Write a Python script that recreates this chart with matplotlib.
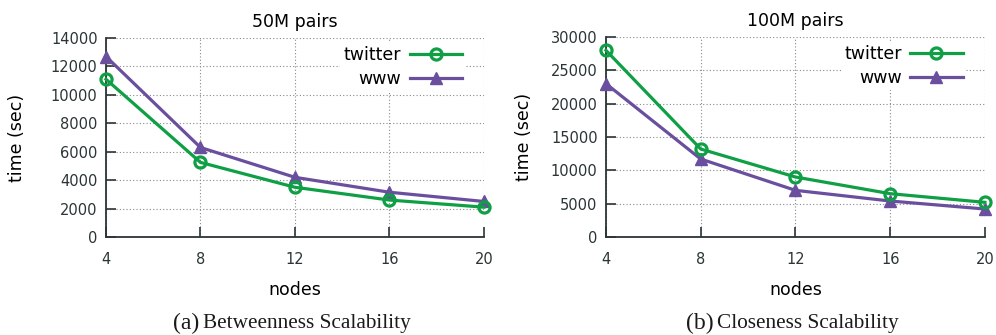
import matplotlib
matplotlib.use("Agg")
import matplotlib.pyplot as plt

nodes = [4, 8, 12, 16, 20]

# betweenness, 50M pairs
btw_twitter = [11100, 5250, 3500, 2600, 2100]
btw_www = [12700, 6300, 4200, 3150, 2500]

# closeness, 100M pairs
cls_twitter = [28000, 13200, 9000, 6500, 5200]
cls_www = [23000, 11700, 7000, 5400, 4200]

titles = ["50M pairs", "100M pairs"]
captions = [("(a)", "Betweenness Scalability"), ("(b)", "Closeness Scalability")]
ymax = [14000, 30000]
ystep = [2000, 5000]

green = "#0f9f45"
purple = "#6a4f9f"
ink = "#2b3535"

fig = plt.figure(figsize=(9.96, 3.35), dpi=100)
axes = [fig.add_axes([0.1064, 0.2925, 0.3795, 0.594]),
        fig.add_axes([0.6084, 0.2925, 0.3805, 0.597])]

series = [(btw_twitter, btw_www), (cls_twitter, cls_www)]
ylabel_pad = [18, 12.5]

for i, ax in enumerate(axes):
    tw, ww = series[i]
    ax.plot(nodes, tw, color=green, lw=2.3, marker="o", ms=8, mfc="none",
            mew=2.3, label="twitter", clip_on=False, zorder=4)
    ax.plot(nodes, ww, color=purple, lw=2.3, marker="^", ms=9,
            label="www", clip_on=False, zorder=3)
    ax.set_xlim(4, 20)
    ax.set_ylim(0, ymax[i])
    ax.set_xticks(nodes)
    ax.set_yticks(range(0, ymax[i] + 1, ystep[i]))
    ax.grid(True, linestyle=(0, (1, 2)), color="#888888", lw=0.8)
    for s in ["top", "right"]:
        ax.spines[s].set_visible(False)
    for s in ["left", "bottom"]:
        ax.spines[s].set_color(ink)
        ax.spines[s].set_linewidth(1.3)
    ax.tick_params(direction="in", length=7, width=1.2, color=ink,
                   labelcolor=ink, labelsize=10.5)
    ax.tick_params(axis="x", pad=11)
    ax.tick_params(axis="y", pad=6)
    ax.set_title(titles[i], fontsize=12.5, pad=8)
    ax.set_xlabel("nodes", fontsize=12.5, labelpad=10)
    ax.set_ylabel("time (sec)", fontsize=12.5, labelpad=ylabel_pad[i])
    leg = ax.legend(loc="upper right", bbox_to_anchor=(0.95, 0.975),
                    markerfirst=False, fontsize=12.5, handlelength=3.0,
                    frameon=True, fancybox=False, borderpad=0.2,
                    labelspacing=0.3, handletextpad=0.5, borderaxespad=0)
    leg.get_frame().set_edgecolor("none")
    leg.get_frame().set_facecolor("white")
    leg.get_frame().set_alpha(1.0)

# captions: larger "(a)"/"(b)" followed by the description
renderer = fig.canvas.get_renderer()
for i, ax in enumerate(axes):
    pos = ax.get_position()
    cx = pos.x0 + pos.width / 2 - 0.003
    tag = fig.text(0, 0.035, captions[i][0], ha="left", va="center",
                   fontsize=17, family="Liberation Serif", color="#1a1a1a")
    body = fig.text(0, 0.035, captions[i][1], ha="left", va="center",
                    fontsize=15.3, family="Liberation Serif", color="#1a1a1a")
    wt = tag.get_window_extent(renderer).width / fig.bbox.width
    wb = body.get_window_extent(renderer).width / fig.bbox.width
    gap = 4 / fig.bbox.width
    x0 = cx - (wt + gap + wb) / 2
    tag.set_x(x0)
    body.set_x(x0 + wt + gap)

fig.savefig("out.png", dpi=100)
